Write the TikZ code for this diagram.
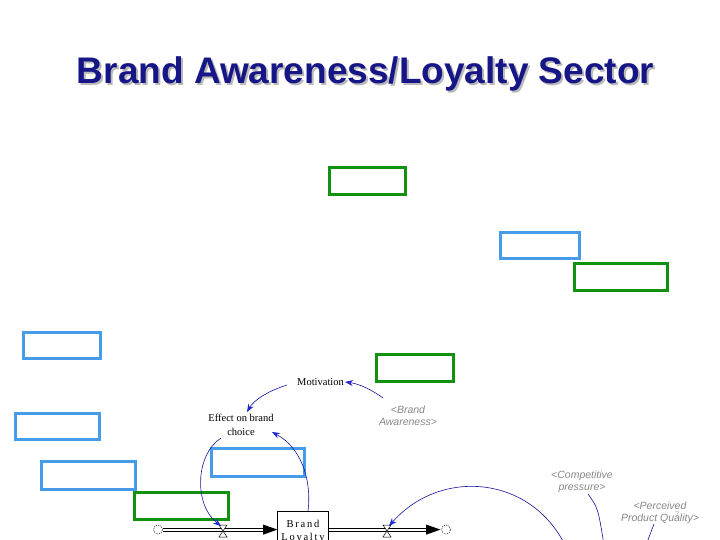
\documentclass[tikz,border=0pt]{standalone}
\usepackage{fontspec}
\setmainfont{Liberation Serif}
\setsansfont{Liberation Sans}
\usetikzlibrary{arrows.meta}
\definecolor{navy}{RGB}{22,22,135}
\definecolor{tgreen}{RGB}{16,145,16}
\definecolor{tblue}{RGB}{70,155,235}
\definecolor{link}{RGB}{20,20,150}
\definecolor{tip}{RGB}{30,40,210}
\definecolor{gtext}{RGB}{135,135,135}
\begin{document}
\begin{tikzpicture}[x=1pt,y=-1pt,
  gbox/.style={draw=tgreen,line width=3pt},
  bbox/.style={draw=tblue,line width=3pt},
  lab/.style={font=\fontsize{10.5}{14}\selectfont,inner sep=1pt,align=center},
  ghost/.style={font=\sffamily\itshape\fontsize{10.5}{12}\selectfont,text=gtext,inner sep=1pt,align=center},
  link/.style={draw=link,line width=0.6pt,-{Stealth[length=8pt,width=6pt,color=tip,fill=tip]}},
  plainlink/.style={draw=link,line width=0.6pt},
  pipeline/.style={draw=black,line width=0.8pt},
  valvestyle/.style={draw=black,fill=white,line width=0.5pt},
  cloudstyle/.style={draw=black,line width=0.5pt,dash pattern=on 1pt off 1pt}
]
\useasboundingbox (0,0) rectangle (720,540);
\clip (0,0) rectangle (720,540);

% title
\node[anchor=base,text=gray!55,font=\sffamily\bfseries\fontsize{37}{40}\selectfont] (titleshadow) at (367.5,86) {Brand Awareness/Loyalty Sector};
\node[anchor=base,text=navy,font=\sffamily\bfseries\fontsize{37}{40}\selectfont] (title) at (365.5,84) {Brand Awareness/Loyalty Sector};

% blue boxes
\draw[bbox] (500.5,232.5) rectangle (579.5,258.5);
\draw[bbox] (23.5,332.5) rectangle (100.5,358.5);
\draw[bbox] (15.5,413.5) rectangle (99.5,439.5);
\draw[bbox] (41.5,461.5) rectangle (135.5,489.5);
\draw[bbox] (211.5,448.5) rectangle (304.5,476.5);
% green boxes
\draw[gbox] (329.5,167.5) rectangle (405.5,194.5);
\draw[gbox] (574.5,263.5) rectangle (667.5,290.5);
\draw[gbox] (376.5,354.5) rectangle (453.5,381.5);
\draw[gbox] (134.5,492.5) rectangle (228.5,519.5);

% variables
\node[lab] (mot) at (320.5,382) {Motivation};
\node[lab] (eff) at (241,425) {Effect on brand\\choice};
\node[ghost] (ba) at (408,416) {<Brand\\Awareness>};
\node[ghost] (cp) at (582,482) {<Competitive\\pressure>};
\node[ghost] (ppq) at (660,512.5) {<Perceived\\Product Quality>};
\node[text=gray!70,font=\sffamily\fontsize{8}{8}\selectfont,inner sep=0pt] (pagenum) at (677,515) {7};

% stock
\node[draw=black,line width=0.6pt,fill=white,minimum width=51pt,minimum height=46pt,anchor=north,inner sep=0pt] (stock) at (303,511) {};
\node[font=\fontsize{10.5}{13}\selectfont,anchor=base,inner sep=0pt] (stocktext1) at (303,527.5) {B\,r\,a\,n\,d};
\node[font=\fontsize{10.5}{13}\selectfont,anchor=base,inner sep=0pt] (stocktext2) at (303,540.5) {L\,o\,y\,a\,l\,t\,y};

% clouds
\coordinate (cloudL) at (158,529.5);
\coordinate (cloudR) at (446,529.5);
\draw[cloudstyle] (cloudL) circle (4.5pt);
\draw[cloudstyle] (cloudR) circle (4.5pt);

% pipes (double lines)
\draw[pipeline] (162.5,528) -- (264,528);
\draw[pipeline] (162.5,531.3) -- (264,531.3);
\draw[pipeline] (stock.east |- 0,528) -- (427,528);
\draw[pipeline] (stock.east |- 0,531.3) -- (427,531.3);
\fill[black] (263,524.5) -- (277.5,529.6) -- (263,534.7) -- cycle;
\fill[black] (426,524.5) -- (440.5,529.6) -- (426,534.7) -- cycle;

% valves
\draw[valvestyle] (219,525) -- (227,525) -- (219,537) -- (227,537) -- cycle;
\draw[valvestyle] (383,525) -- (391,525) -- (383,537) -- (391,537) -- cycle;

% links
\coordinate (baout) at (383,398);
\coordinate (motout) at (287,385);
\coordinate (effin1) at (247,412);
\coordinate (effin2) at (272,432);
\coordinate (effout) at (221,438);
\coordinate (stockout) at (308,511);
\coordinate (valveLin) at (221,526);
\coordinate (valveRin) at (389,526);
\coordinate (arcstart) at (565,545);
\coordinate (cpout) at (588,494);
\coordinate (cpend) at (604,545);
\coordinate (ppqout) at (654,524);
\coordinate (ppqend) at (646,545);

\draw[link] (baout) .. controls (372,390) and (360,384) .. (mot.east);
\draw[link] (motout) .. controls (268,391) and (254,400) .. (effin1);
\draw[link] (stockout) .. controls (312,478) and (300,447) .. (effin2);
\draw[link] (effout) .. controls (195,455) and (194,505) .. (valveLin);
\draw[link] (arcstart) .. controls (530,475) and (440,468) .. (valveRin);
\draw[plainlink] (cpout) .. controls (598,508) .. (cpend);
\draw[plainlink] (ppqout) -- (ppqend);
\end{tikzpicture}
\end{document}
